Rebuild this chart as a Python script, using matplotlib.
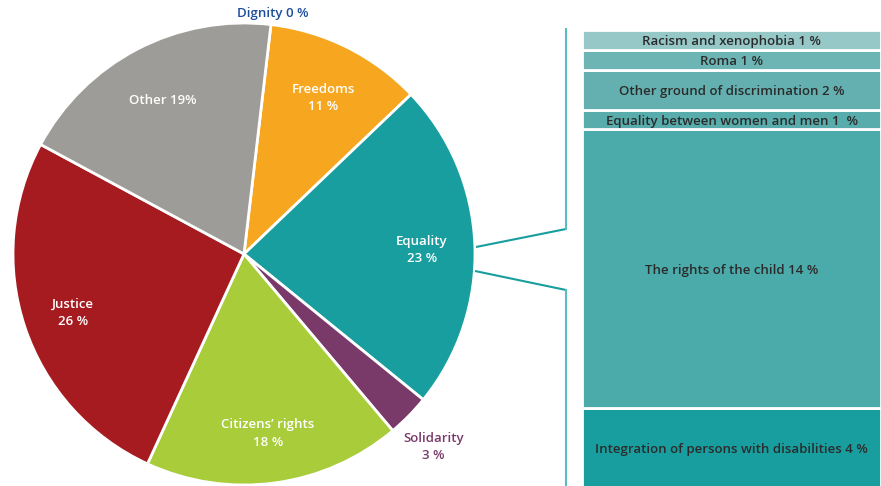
import numpy as np
import matplotlib.pyplot as plt

plt.rcParams['font.family'] = ['Open Sans', 'DejaVu Sans']

# main pie (clockwise from top)
labels = ['Dignity', 'Freedoms', 'Equality', 'Solidarity', "Citizens\u2019 rights", 'Justice', 'Other']
values = [0, 11, 23, 3, 18, 26, 19]
texts = ['Dignity 0 %', 'Freedoms\n11 %', 'Equality\n23 %', 'Solidarity\n3 %',
         "Citizens\u2019 rights\n18 %", 'Justice\n26 %', 'Other 19%']
colors = ['#1f4e9b', '#f6a61f', '#189e9e', '#7a3a69', '#a8cc3a', '#a51b20', '#9d9c98']

# breakdown of Equality (top to bottom)
sub_labels = ['Racism and xenophobia 1 %', 'Roma 1 %', 'Other ground of discrimination 2 %',
              'Equality between women and men 1  %', 'The rights of the child 14 %',
              'Integration of persons with disabilities 4 %']
sub_values = [1, 1, 2, 1, 14, 4]
sub_colors = ['#96c8c8', '#6db5b5', '#64b0b0', '#58acac', '#4babab', '#189e9e']

W, H = 881, 486
fig = plt.figure(figsize=(W / 100, H / 100), dpi=100)
ax = fig.add_axes([0, 0, 1, 1])

cx, cy, R = 244, 232, 231
start = 83.3
wedges, _ = ax.pie(values, colors=colors, startangle=start, counterclock=False,
                   center=(cx, cy), radius=R, frame=True,
                   wedgeprops=dict(edgecolor='white', linewidth=2))
ax.set_xlim(0, W)
ax.set_ylim(0, H)
ax.set_aspect('equal')
ax.axis('off')

dist = [1.05, 0.77, 0.77, 1.15, 0.77, 0.78, 0.76]
shift = [0, -3, -3, -7, -3, -2, -2]
for w, t, d, s, c in zip(wedges, texts, dist, shift, colors):
    mid = np.deg2rad((w.theta1 + w.theta2) / 2)
    x = cx + d * R * np.cos(mid)
    y = cy + d * R * np.sin(mid) + s
    col = 'white' if d < 1 else c
    ax.text(x, y, t, ha='center', va='center', color=col, fontsize=9.5,
            fontweight='semibold', linespacing=1.45)

# stacked breakdown bar, top edge at y=456
scale = 19.9
bottom = 456 - scale * sum(sub_values)
for lab, v, c in zip(sub_labels[::-1], sub_values[::-1], sub_colors[::-1]):
    ax.bar(731.5, v * scale, width=299, bottom=bottom, color=c,
           edgecolor='white', linewidth=2)
    ax.text(731.5, bottom + v * scale / 2 - 2, lab, ha='center', va='center',
            color='#2b2b2b', fontsize=9.5, fontweight='semibold')
    bottom += v * scale

# connector lines
ax.plot([476, 566], [239, 257], color='#189e9e', lw=1.5, solid_capstyle='butt')
ax.plot([475, 566], [215, 196], color='#189e9e', lw=1.5, solid_capstyle='butt')
ax.plot([566, 566], [257, 457], color='#5bbcbf', lw=1.5)
ax.plot([566, 566], [196, 0], color='#5bbcbf', lw=1.5)

fig.savefig('out.png', dpi=100)
